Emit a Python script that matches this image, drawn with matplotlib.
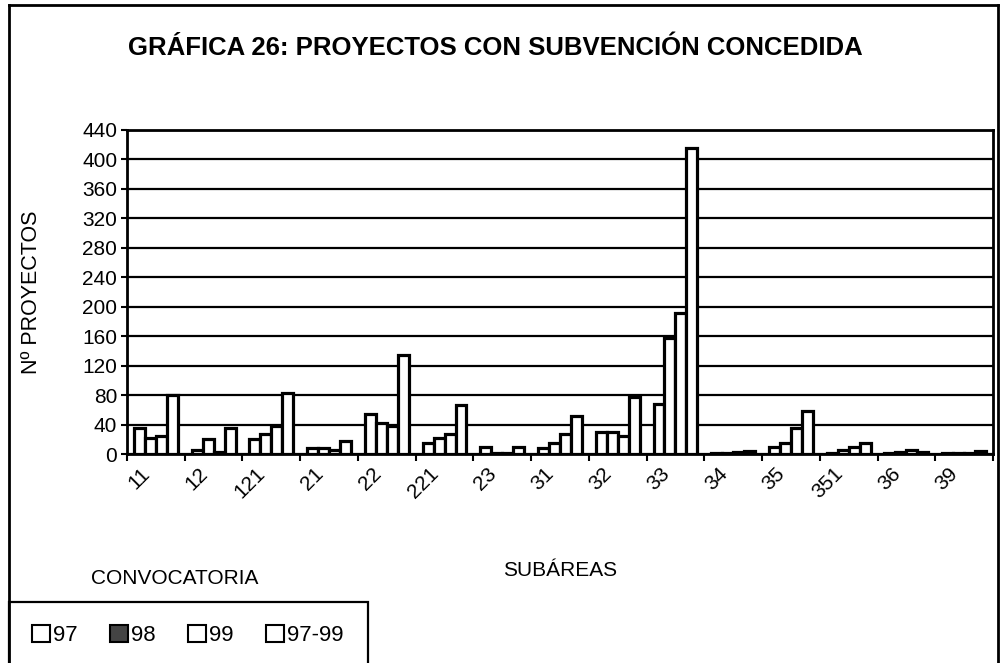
import numpy as np
import matplotlib

matplotlib.use("Agg")
import matplotlib.pyplot as plt
from matplotlib.patches import Rectangle, Patch
from matplotlib.lines import Line2D

plt.rcParams["font.family"] = ["Liberation Sans", "DejaVu Sans"]

# ---- data ------------------------------------------------------------------
subareas = ["11", "12", "121", "21", "22", "221", "23", "31", "32", "33",
            "34", "35", "351", "36", "39"]
conv_97 = [35, 6, 20, 8, 55, 15, 10, 8, 30, 68, 1, 10, 2, 1, 1]
conv_98 = [22, 20, 27, 8, 42, 22, 1, 15, 30, 158, 2, 15, 5, 3, 2]
conv_99 = [25, 3, 38, 5, 38, 28, 1, 28, 24, 192, 3, 35, 10, 5, 2]
conv_9799 = [80, 35, 83, 18, 135, 67, 10, 52, 78, 415, 4, 58, 15, 3, 4]
series = [("97", conv_97), ("98", conv_98), ("99", conv_99), ("97-99", conv_9799)]
yticks = list(range(0, 441, 40))

# ---- figure ----------------------------------------------------------------
fig = plt.figure(figsize=(10, 6.63), dpi=100)
ax = fig.add_axes([0.127, 0.315, 0.866, 0.489])

x = np.arange(len(subareas))
w = 0.19
for i, (name, vals) in enumerate(series):
    ax.bar(x + (i - 1.5) * w, vals, width=w, facecolor="white",
           edgecolor="black", linewidth=2.3, zorder=3)

ax.set_xlim(-0.5, len(subareas) - 0.5)
ax.set_ylim(0, 440)
ax.set_yticks(yticks)
ax.tick_params(axis="y", labelsize=15, length=4, width=1.5, pad=3)
ax.yaxis.grid(True, color="black", linewidth=1.6, zorder=0)

# category labels near centres, tick marks at group boundaries
ax.set_xticks(np.arange(len(subareas) + 1) - 0.5)
ax.set_xticklabels([])
ax.tick_params(axis="x", length=5, width=1.5)
for xi, lab in zip(x, subareas):
    ax.text(xi - 0.27, -13, lab, rotation=45, ha="right", va="top",
            rotation_mode="anchor", fontsize=15)

for sp in ax.spines.values():
    sp.set_linewidth(2.0)

ax.set_ylabel("Nº PROYECTOS", fontsize=15.5)
ax.yaxis.set_label_coords(-0.098, 0.5)

fig.text(0.495, 0.928, "GRÁFICA 26: PROYECTOS CON SUBVENCIÓN CONCEDIDA",
         ha="center", va="center", fontsize=18.5, fontweight="bold")
fig.text(0.56, 0.140, "SUBÁREAS", ha="center", va="center", fontsize=15)
fig.text(0.175, 0.128, "CONVOCATORIA", ha="center", va="center", fontsize=15)

# outer frame
fig.add_artist(Line2D([0.009, 0.009], [0.0, 0.992], color="black", lw=2.0))
fig.add_artist(Line2D([0.009, 0.998], [0.992, 0.992], color="black", lw=2.0))
fig.add_artist(Line2D([0.998, 0.998], [0.0, 0.992], color="black", lw=2.0))

# legend box
fig.add_artist(Rectangle((0.009, -0.01), 0.359, 0.102, transform=fig.transFigure,
                         facecolor="none", edgecolor="black", lw=1.6))
handles = [Patch(facecolor="white", edgecolor="black", lw=1.5),
           Patch(facecolor="#444444", edgecolor="black", lw=1.5),
           Patch(facecolor="white", edgecolor="black", lw=1.5),
           Patch(facecolor="white", edgecolor="black", lw=1.5)]
fig.legend(handles, [s[0] for s in series], ncol=4, frameon=False,
           loc="center left", bbox_to_anchor=(0.012, 0.042), fontsize=16,
           handlelength=0.8, handleheight=0.8, handletextpad=0.15,
           columnspacing=1.45)

fig.savefig("out.png", dpi=100)
